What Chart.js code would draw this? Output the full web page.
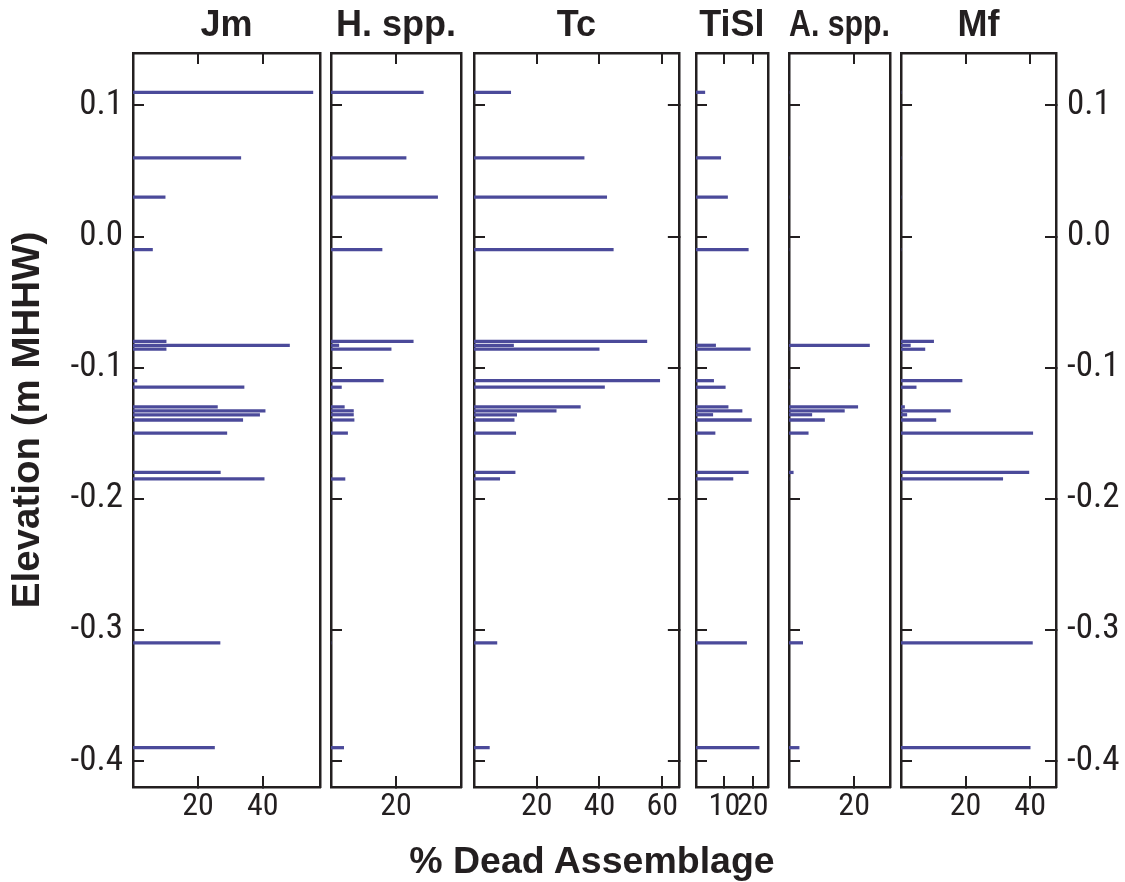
<!DOCTYPE html>
<html>
<head>
<meta charset="utf-8">
<script src="https://cdn.jsdelivr.net/npm/chart.js@4.4.0/dist/chart.umd.min.js"></script>
<style>
  body { margin: 0; background: #fff; }
  #wrap { position: relative; width: 1125px; height: 882px; overflow: hidden; }
  #wrap canvas { position: absolute; top: 0; }
  #xtitle { position: absolute; left: 0; width: 1184px; top: 839px; line-height: 38px; text-align: center;
            font: bold 37.5px 'Liberation Sans', Arial, sans-serif; color: #231f20; }
</style>
</head>
<body>
<div id="wrap">
  <canvas id="c0"></canvas>
  <canvas id="c1"></canvas>
  <canvas id="c2"></canvas>
  <canvas id="c3"></canvas>
  <canvas id="c4"></canvas>
  <canvas id="c5"></canvas>
  <div id="xtitle">% Dead Assemblage</div>
</div>
<script>
// sample elevations (m MHHW), shared by all taxa
var elevations = [0.11, 0.06, 0.03, -0.01, -0.080, -0.083, -0.086, -0.110, -0.115,
                  -0.130, -0.133, -0.136, -0.140, -0.150, -0.180, -0.185, -0.310, -0.390];

// % dead assemblage per taxon, same order as elevations
var jm   = [55.4, 33.2, 9.9, 6.0, 10.2, 48.2, 10.2, 1.2, 34.2, 26.0, 40.7, 39.0, 33.8, 28.9, 26.9, 40.4, 26.8, 25.1];
var hspp = [28.4, 23.1, 32.8, 15.7, 25.3, 2.4, 18.5, 16.1, 3.2, 4.1, 6.9, 6.9, 7.1, 5.1, 0, 4.3, 0, 3.9];
var tc   = [11.7, 35.1, 42.3, 44.4, 55.1, 12.6, 39.9, 59.2, 41.6, 33.9, 26.2, 13.6, 12.8, 13.3, 13.1, 8.2, 7.3, 4.9];
var tisl = [3.1, 8.7, 11.1, 18.4, 0, 6.9, 19.1, 6.2, 10.3, 11.3, 16.2, 5.9, 19.5, 6.7, 18.4, 13.0, 17.8, 22.2];
var aspp = [0, 0, 0, 0, 0, 24.7, 0, 0, 0, 21.1, 17.0, 7.0, 10.9, 5.9, 1.3, 0, 4.2, 3.1];
var mf   = [0, 0, 0, 0, 10.1, 2.9, 7.4, 18.9, 4.7, 1.1, 15.3, 1.8, 10.8, 40.8, 39.6, 31.5, 40.7, 40.0];

var taxa = ['Jm', 'H. spp.', 'Tc', 'TiSl', 'A. spp.', 'Mf'];
var series = [jm, hspp, tc, tisl, aspp, mf];
var xTicks = [[20, 40], [20], [20, 40, 60], [10, 20], [20], [20, 40]];
var xMax = [57.6, 40, 65.3, 25.3, 31, 48];
var yTicks = [0.1, 0.0, -0.1, -0.2, -0.3, -0.4];
var yMin = -0.42, yMax = 0.14;

// panel frame positions in the page
var panelLeft  = [133, 331, 474, 696, 789, 901];
var panelRight = [320, 461, 685, 778, 890, 1056];
var rightTicks = [false, false, true, false, false, true];

var ink = '#231f20';
var barColor = '#4b4a9a';
var narrow = "'Liberation Sans Narrow', 'Roboto Condensed', 'Arial Narrow', 'Liberation Sans', sans-serif";
var sans = "'Liberation Sans', Arial, sans-serif";

function tickSetter(list) {
    return function (scale) {
        scale.ticks = list.map(function (v) { return {value: v}; });
    };
}

for (var i = 0; i < 6; i++) {
    var leftW = i == 0 ? 133 : 6;
    var rightW = i == 5 ? 69 : 6;
    var w = panelRight[i] - panelLeft[i] + leftW + rightW;
    var canvas = document.getElementById('c' + i);
    canvas.width = w;
    canvas.height = 882;
    canvas.style.left = (panelLeft[i] - leftW) + 'px';
    canvas.style.width = w + 'px';
    canvas.style.height = '882px';

    var pts = [];
    for (var k = 0; k < elevations.length; k++) {
        pts.push({x: series[i][k], y: elevations[k]});
    }

    var gridIn = {drawOnChartArea: false, tickLength: -11, lineWidth: 2, tickWidth: 2, color: ink};
    var border = {display: true, width: 2.5, color: ink};

    (function (i, leftW, rightW) {
        new Chart(canvas, {
            type: 'bar',
            data: {
                datasets: [{
                    data: pts,
                    backgroundColor: barColor,
                    borderWidth: 0,
                    barThickness: 2.6
                }]
            },
            options: {
                indexAxis: 'y',
                responsive: false,
                animation: false,
                devicePixelRatio: 1,
                layout: {padding: 0},
                plugins: {legend: {display: false}, tooltip: {enabled: false}},
                scales: {
                    x: {
                        type: 'linear', position: 'bottom', min: 0, max: xMax[i],
                        afterBuildTicks: tickSetter(xTicks[i]),
                        afterFit: function (s) { s.height = 95; },
                        grid: gridIn, border: border,
                        ticks: {autoSkip: false, maxRotation: 0, padding: 12, color: ink,
                                font: {family: narrow, size: 32}}
                    },
                    x2: {
                        type: 'linear', position: 'top', min: 0, max: xMax[i],
                        afterBuildTicks: tickSetter(xTicks[i]),
                        afterFit: function (s) { s.height = 53; },
                        grid: gridIn, border: border,
                        ticks: {display: false},
                        title: {display: true, text: taxa[i], color: ink, padding: {top: 4, bottom: 0},
                                font: {family: sans, size: 36, weight: 'bold'}}
                    },
                    y: {
                        type: 'linear', position: 'left', min: yMin, max: yMax, offset: false,
                        afterBuildTicks: tickSetter(yTicks),
                        afterFit: function (s) { s.width = leftW; },
                        grid: {offset: false, drawOnChartArea: false, tickLength: -11, lineWidth: 2, tickWidth: 2, color: ink},
                        border: border,
                        ticks: {display: i == 0, padding: 21, color: ink, font: {family: narrow, size: 35},
                                callback: function (v) { return v.toFixed(1); }},
                        title: {display: i == 0, text: 'Elevation (m MHHW)', color: ink, padding: {top: 5, bottom: 0},
                                font: {family: sans, size: 38.5, weight: 'bold'}}
                    },
                    y2: {
                        type: 'linear', position: 'right', min: yMin, max: yMax, offset: false,
                        afterBuildTicks: tickSetter(yTicks),
                        afterFit: function (s) { s.width = rightW; },
                        grid: {display: rightTicks[i], offset: false, drawOnChartArea: false, tickLength: -11,
                               lineWidth: 2, tickWidth: 2, color: ink},
                        border: border,
                        ticks: {display: i == 5, padding: 22, color: ink, font: {family: narrow, size: 35},
                                callback: function (v) { return v.toFixed(1); }}
                    }
                }
            }
        });
    })(i, leftW, rightW);
}
</script>
</body>
</html>
